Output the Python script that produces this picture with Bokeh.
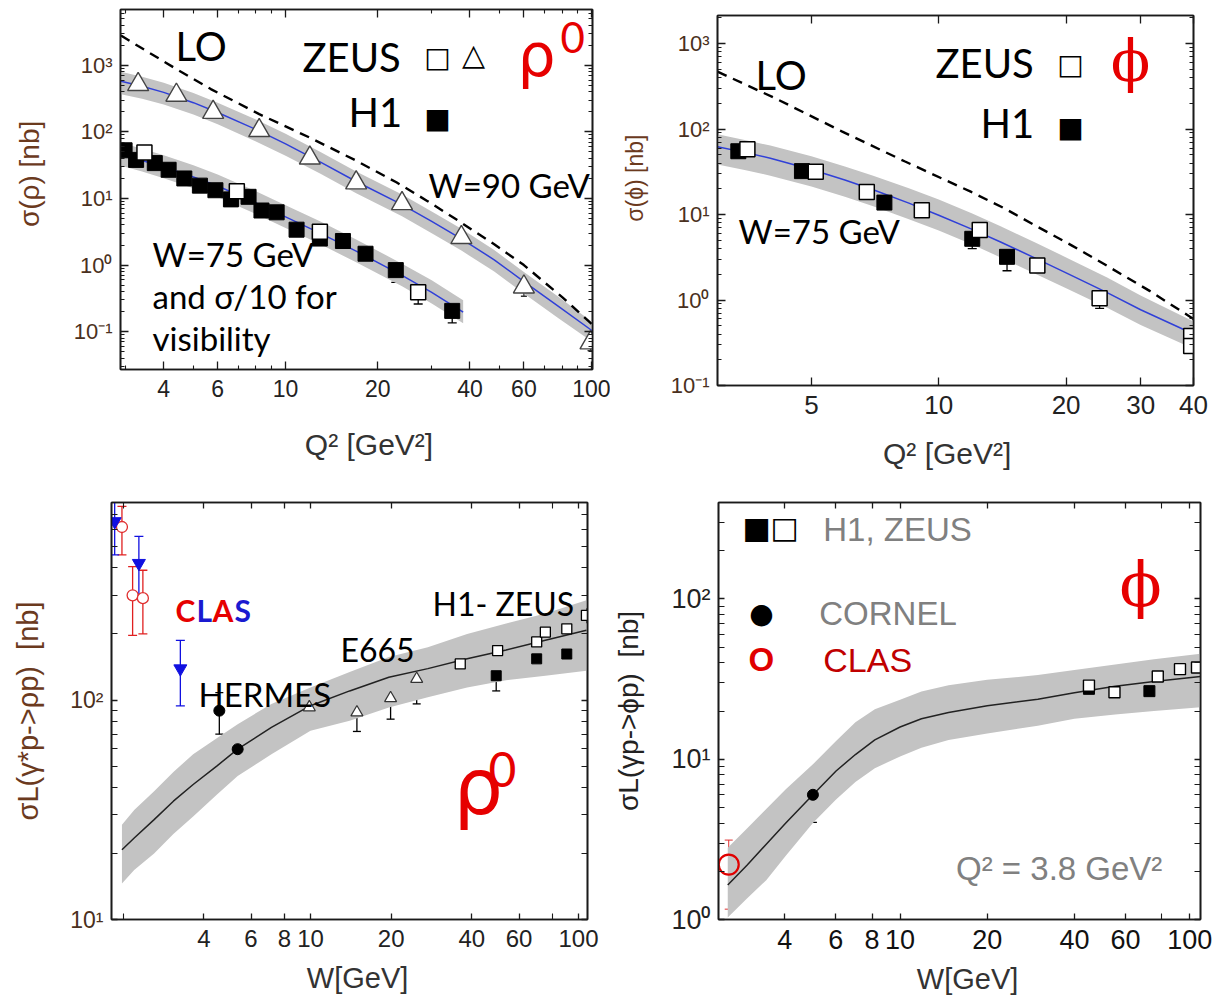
import math
from bokeh.plotting import figure
from bokeh.models import (Range1d, FixedTicker, LogAxis, Label, ColumnDataSource,
                          Whisker, TeeHead, CustomJSTickFormatter)
from bokeh.layouts import column, row
from bokeh.embed import file_html
from bokeh.resources import INLINE

# ======================= DATA =======================
# --- Panel 1: rho0 cross section vs Q2 ---
zeus90_q2 = [3.3, 4.4, 5.8, 8.2, 12, 17, 24, 37.5, 60, 99]
zeus90_sig = [517, 357, 197, 105, 40.6, 17.2, 8.4, 2.6, 0.47, 0.068]
zeus90_lo = [406, 277, 154, 79, 32, 13.5, 6.4, 1.97, 0.34, 0.052]

h1_75_q2 = [2.98, 3.25, 3.74, 4.15, 4.67, 5.25, 5.9, 6.63, 7.57, 8.34, 9.35, 10.86, 12.94, 15.39, 18.24, 22.9, 35.0]
h1_75_sig = [53, 38, 34, 27, 20, 15.6, 13.3, 9.7, 10.6, 6.6, 6.2, 3.4, 2.5, 2.3, 1.48, 0.84, 0.205]
h1_75_lo = [47, 33, 29.5, 23.4, 17.2, 13.5, 11.7, 8.5, 9.2, 5.7, 5.3, 3.0, 2.1, 2.0, 1.17, 0.55, 0.135]
h1_75_hi = [59, 43, 38, 31, 22.8, 17.8, 15.1, 11.1, 12.1, 7.6, 7.0, 3.9, 2.8, 2.7, 1.72, 1.05, 0.28]

zeus75_q2 = [3.46, 6.93, 12.94, 27.1]
zeus75_sig = [49, 12.9, 3.16, 0.39]
zeus75_lo = [43, 10.8, 2.7, 0.26]
zeus75_hi = [55, 14.8, 3.6, 0.49]

curve90_q2 = [2.9, 3.4, 4, 5, 6, 8, 10, 13, 17, 24, 30, 37.5, 48, 60, 78, 100]
curve90_sig = [578, 485, 393, 275, 196, 109, 66, 35.2, 18.0, 8.1, 4.54, 2.48, 1.2, 0.566, 0.238, 0.104]
band90_hi = [800, 675, 550, 385, 275, 153, 94, 50, 25.5, 11.5, 6.4, 3.5, 1.68, 0.79, 0.33, 0.141]
band90_lo = [369, 315, 258, 182, 130, 72, 44, 23.5, 12, 5.4, 3.0, 1.65, 0.8, 0.375, 0.158, 0.071]

curve75_q2 = [2.9, 3.4, 4, 5, 6, 8, 10, 13, 17, 24, 30, 38]
curve75_sig = [45.5, 37.3, 29.7, 21.0, 15.4, 8.6, 5.3, 3.0, 1.62, 0.70, 0.39, 0.197]
band75_hi = [69, 56, 44.5, 31.5, 23, 12.9, 7.9, 4.5, 2.43, 1.05, 0.59, 0.295]
band75_lo = [31, 25.4, 20.2, 14.3, 10.5, 5.85, 3.6, 2.05, 1.1, 0.48, 0.265, 0.134]

lo1_q2 = [2.9, 3.3, 4.4, 5.7, 8.2, 12, 17, 23, 29, 37, 48, 60, 80, 100]
lo1_sig = [2800, 1950, 880, 440, 185, 82, 37, 17.5, 9.2, 4.5, 2.05, 1.0, 0.33, 0.13]

# --- Panel 2: phi cross section vs Q2 ---
zphi_q2 = [3.53, 5.12, 6.76, 9.12, 12.5, 17.1, 24.0, 39.5, 39.5]
zphi_sig = [58, 31.6, 18.4, 11.2, 6.6, 2.53, 1.05, 0.38, 0.29]
zphi_lo = [51, 28, 16.5, 10, 5.9, 2.25, 0.8, 0.32, 0.25]
zphi_hi = [65, 35.5, 20.5, 12.5, 7.4, 2.85, 1.25, 0.45, 0.34]
hphi_q2 = [3.36, 4.75, 7.44, 12.0, 14.5]
hphi_sig = [55, 32.2, 13.8, 5.2, 3.2]
hphi_lo = [47, 27.5, 12.3, 4.0, 2.2]
hphi_hi = [62, 36.5, 15.3, 6.3, 4.2]

curve2_q2 = [3.0, 3.5, 4, 5, 6, 7, 8.5, 10, 12, 14, 17, 20, 25, 30, 40]
curve2_sig = [62, 53, 45.6, 33.7, 25.4, 19.5, 13.6, 9.8, 6.7, 4.77, 3.05, 2.08, 1.22, 0.77, 0.40]
band2_hi = [87, 74, 64, 48, 36.5, 28.5, 20.3, 15, 10.3, 7.3, 4.65, 3.15, 1.83, 1.13, 0.56]
band2_lo = [38.5, 33, 28.5, 21.3, 16.2, 12.5, 8.8, 6.5, 4.45, 3.15, 2.0, 1.37, 0.81, 0.51, 0.27]

lo2_q2 = [3.0, 4.1, 5.9, 8.3, 11.9, 14.3, 17.2, 20.6, 24.7, 31.5, 40]
lo2_sig = [470, 230, 94, 42, 18.5, 11.8, 7.1, 4.36, 2.6, 1.28, 0.6]

# --- Panel 3: sigma_L(rho) vs W ---
clasr_w = [1.98, 2.17, 2.37]
clasr_sig = [614, 300, 291]
clasr_lo = [458, 197, 200]
clasr_hi = [762, 405, 390]
clasb_w = [1.86, 2.29, 3.27]
clasb_sig = [651, 420, 139]
clasb_lo = [458, 290, 94]
clasb_hi = [803, 556, 187]
hermes_w = [4.57, 5.35]
hermes_sig = [89.4, 59.7]
hermes_lo = [69.9, 50.1]
hermes_hi = [108, 70.4]
e665_w = [9.9, 14.9, 19.9, 24.9]
e665_sig = [92.6, 87.8, 102, 124.8]
e665_lo = [74.4, 71.9, 81.8, 96]
e665_hi = [106.5, 103.6, 116, 147]
zrho_w = [36.2, 49.9, 69.8, 75.2, 90.4, 107]
zrho_sig = [146, 168, 184, 204, 211, 243]
zrho_lo = [127, 151, 162, 177, 190, 225]
zrho_hi = [162, 177, 194, 229, 227, 260]
hrho_w = [49.3, 69.8, 90.4]
hrho_sig = [129, 154, 162]
hrho_lo = [110, 136, 144]
hrho_hi = [146, 168, 180]

curve3_w = [1.98, 2.2, 2.61, 3.08, 3.65, 4.47, 5.35, 7.15, 10, 14.0, 19.6, 27.4, 38.4, 53.7, 75.2, 107]
curve3_sig = [20.8, 23.5, 28.5, 34.6, 41.2, 50, 59.7, 75, 94.2, 110, 127, 139, 154, 169, 187, 208]
band3_hi = [27.0, 31.5, 38.4, 47, 56.6, 67, 77.6, 96, 114, 134, 157, 174, 200, 223, 248, 285]
band3_lo = [14.6, 16.8, 20.0, 24.5, 29.5, 37, 45, 56.6, 72.4, 80.4, 92.5, 103, 114, 123, 129, 136]

# --- Panel 4: sigma_L(phi) vs W ---
clasphi_w = [2.56]
clasphi_sig = [2.2]
clasphi_lo = [1.16]
clasphi_hi = [3.13]
cornell_w = [5.0]
cornell_sig = [6.0]
cornell_lo = [4.04]
cornell_hi = [8.1]
zphiw_w = [44.9, 55, 77.6, 92.6, 106]
zphiw_sig = [28.8, 26.2, 32.8, 36.5, 37.4]
zphiw_lo = [26.0, 22.0, 27.9, 32.1, 33.0]
zphiw_hi = [32.8, 29.6, 36.9, 41.5, 42.0]
hphiw_w = [44.9, 72.6]
hphiw_sig = [27.5, 26.6]
hphiw_lo = [25.5, 22.8]
hphiw_hi = [29.5, 29.9]

curve4_w = [2.54, 2.96, 3.45, 4.03, 5.0, 6.01, 7.01, 8.18, 10, 11.85, 14.7, 20, 29.9, 40, 55.3, 75.3, 109]
curve4_sig = [1.64, 2.18, 2.95, 4.0, 6.0, 8.45, 10.7, 13.2, 15.9, 17.9, 19.6, 21.6, 23.7, 26.0, 28.5, 30.6, 32.8]
band4_hi = [2.8, 3.7, 4.9, 6.5, 9.3, 13.0, 17.0, 20.5, 23.5, 26.5, 29, 31.3, 33.5, 36, 39, 42, 45.6]
band4_lo = [1.03, 1.35, 1.76, 2.5, 4.0, 5.6, 7.2, 8.8, 10.4, 11.8, 13.2, 14.5, 16.2, 17.9, 19, 20, 21.1]

# tick label sets
p1_xticks = [4, 6, 10, 20, 40, 60, 100]
p2_xticks = [5, 10, 20, 30, 40]
w_xticks = [4, 6, 8, 10, 20, 40, 60, 100]

# ======================= HELPERS =======================
INK = "#1a1a1a"
NB = "\u00a0"


def pow_fmt():
    return CustomJSTickFormatter(code="""
const e = Math.round(Math.log10(tick));
const sup = {'-':'\u207b','0':'\u2070','1':'\u00b9','2':'\u00b2','3':'\u00b3','4':'\u2074'};
return '10' + String(e).split('').map(c => sup[c]).join('');
""")


def num_fmt():
    return CustomJSTickFormatter(code="return String(Math.round(tick));")


def empty_fmt():
    return CustomJSTickFormatter(code="return '';")


def log_minors(lo_exp, hi_exp):
    return [m * 10.0 ** e for e in range(lo_exp, hi_exp) for m in range(2, 10)]


class Geo:
    """page-pixel geometry of one panel's frame, for placing annotations"""
    def __init__(self, ox, oy, bl, br, bt, bb, w, h, xr, yr):
        self.x0 = ox + bl
        self.x1 = ox + w - br
        self.y0 = oy + bt
        self.y1 = oy + h - bb
        self.xr = xr
        self.yr = yr

    def at(self, px, py):
        lx0, lx1 = math.log10(self.xr[0]), math.log10(self.xr[1])
        ly0, ly1 = math.log10(self.yr[0]), math.log10(self.yr[1])
        lx = lx0 + (px - self.x0) / (self.x1 - self.x0) * (lx1 - lx0)
        ly = ly1 - (py - self.y0) / (self.y1 - self.y0) * (ly1 - ly0)
        return 10 ** lx, 10 ** ly


def make_panel(w, h, xr, yr, bl, br, bt, bb):
    p = figure(width=w, height=h, x_axis_type="log", y_axis_type="log",
               x_range=Range1d(*xr), y_range=Range1d(*yr),
               output_backend="svg", toolbar_location=None,
               min_border_left=bl, min_border_right=br,
               min_border_top=bt, min_border_bottom=bb)
    p.xgrid.visible = False
    p.ygrid.visible = False
    p.outline_line_color = INK
    p.outline_line_width = 1.6
    p.background_fill_color = "white"
    p.border_fill_color = "white"
    return p


def style_axis(ax, major, minor, fmt, size, color, mlen=8, nlen=4):
    ax.ticker = FixedTicker(ticks=major, minor_ticks=minor)
    ax.formatter = fmt
    ax.major_tick_in = mlen
    ax.major_tick_out = 0
    ax.minor_tick_in = nlen
    ax.minor_tick_out = 0
    ax.major_tick_line_color = INK
    ax.minor_tick_line_color = INK
    ax.major_tick_line_width = 1.3
    ax.minor_tick_line_width = 1.1
    ax.axis_line_color = INK
    ax.axis_line_width = 1.6
    ax.major_label_text_font = "Liberation Sans"
    ax.major_label_text_font_size = f"{size}px"
    ax.major_label_text_color = color


def axis_text(ax, text, size, color, standoff):
    ax.axis_label = text
    ax.axis_label_text_font = "Liberation Sans"
    ax.axis_label_text_font_size = f"{size}px"
    ax.axis_label_text_font_style = "normal"
    ax.axis_label_text_color = color
    ax.axis_label_standoff = standoff


def setup_axes(p, xmaj, xmin, ymaj, ymin, xsize, ysize, xcol, ycol, xlab, ylab,
               mlen=8, nlen=4, xstand=10, ystand=8):
    xa = p.below[0]
    ya = p.left[0]
    style_axis(xa, xmaj, xmin, num_fmt(), xsize, xcol, mlen, nlen)
    style_axis(ya, ymaj, ymin, pow_fmt(), ysize, ycol, mlen, nlen)
    xa.major_label_standoff = xstand
    ya.major_label_standoff = ystand
    axis_text(xa, *xlab)
    axis_text(ya, *ylab)
    top = LogAxis()
    style_axis(top, xmaj, xmin, empty_fmt(), 0, INK, mlen, nlen)
    top.major_label_standoff = 0
    p.add_layout(top, "above")
    right = LogAxis()
    style_axis(right, ymaj, ymin, empty_fmt(), 0, INK, mlen, nlen)
    right.major_label_standoff = 0
    p.add_layout(right, "right")


def errbars(p, x, lo, hi, color="black", width=1.3, head=8, lower=True, upper=True):
    src = ColumnDataSource(dict(x=x, lo=lo, hi=hi))
    wk = Whisker(source=src, base="x", lower="lo", upper="hi", dimension="height",
                 line_color=color, line_width=width,
                 upper_head=TeeHead(size=head, line_color=color, line_width=width) if upper else None,
                 lower_head=TeeHead(size=head, line_color=color, line_width=width) if lower else None)
    p.add_layout(wk)


def txt(p, g, px, py, text, size, color="black", font="Lato", align="left",
        baseline="alphabetic", style="normal", angle=0.0):
    # px, py: page pixel position (baseline for alphabetic text, centre for 'middle')
    if baseline == "alphabetic":
        py = py - 0.43 * size
    x, y = g.at(px, py)
    p.add_layout(Label(x=x, y=y, text=text, text_font=font, text_font_size=f"{size}px",
                       text_color=color, text_align=align, text_baseline=baseline,
                       text_font_style=style, angle=angle))


BAND = "#c3c3c3"
BLUE = "#3040d8"
RED = "#e60000"
YCOL = "#4a3020"
YLAB = "#6b3a1e"

# ======================= PANEL 1 =======================
P1 = dict(w=610, h=490, xr=(2.89, 100.5), yr=(0.027, 6900), bl=120, br=18, bt=9, bb=121)
g1 = Geo(0, 0, P1["bl"], P1["br"], P1["bt"], P1["bb"], P1["w"], P1["h"], P1["xr"], P1["yr"])
p1 = make_panel(P1["w"], P1["h"], P1["xr"], P1["yr"], P1["bl"], P1["br"], P1["bt"], P1["bb"])
setup_axes(p1, p1_xticks, [3, 5, 7, 8, 9, 30, 50, 70, 80, 90],
           [0.1, 1, 10, 100, 1000], log_minors(-2, 4), 23, 22, "#222222", YCOL,
           (NB * 3 + "Q\u00b2 [GeV\u00b2]", 30, "#333333", 28),
           (NB * 4 + "\u03c3(\u03c1) [nb]", 28, YLAB, 26))
p1.varea(x=curve90_q2, y1=band90_lo, y2=band90_hi, fill_color=BAND)
p1.varea(x=curve75_q2, y1=band75_lo, y2=band75_hi, fill_color=BAND)
p1.line(curve90_q2, curve90_sig, line_color=BLUE, line_width=1.5)
p1.line(curve75_q2, curve75_sig, line_color=BLUE, line_width=1.5)
p1.line(lo1_q2, lo1_sig, line_color="black", line_width=2.4, line_dash="10 7")
errbars(p1, zeus90_q2, zeus90_lo, zeus90_sig, color="#333333", head=6, upper=False)
errbars(p1, h1_75_q2, h1_75_lo, h1_75_hi, head=9)
errbars(p1, zeus75_q2, zeus75_lo, zeus75_hi, head=9)
p1.scatter(zeus90_q2, zeus90_sig, marker="triangle", size=21, fill_color="white",
           line_color="#444444", line_width=1.4)
p1.scatter(h1_75_q2, h1_75_sig, marker="square", size=15, fill_color="black", line_color="black")
p1.scatter(zeus75_q2, zeus75_sig, marker="square", size=15, fill_color="white",
           line_color="black", line_width=1.5)
txt(p1, g1, 175, 63, "LO", 40)
txt(p1, g1, 302, 74, "ZEUS", 40)
txt(p1, g1, 437, 57, "\u25a1", 28, font="DejaVu Sans", align="center", baseline="middle")
txt(p1, g1, 473, 54, "\u25b3", 30, font="DejaVu Sans", align="center", baseline="middle")
txt(p1, g1, 517, 80, "\u03c1", 60, color=RED, font="DejaVu Sans")
txt(p1, g1, 560, 55, "0", 42, color=RED)
txt(p1, g1, 348, 129, "H1", 40)
txt(p1, g1, 437, 118, "\u25a0", 28, font="DejaVu Sans", align="center", baseline="middle")
txt(p1, g1, 428, 199, "W=90 GeV", 33)
txt(p1, g1, 152, 268, "W=75 GeV", 33)
txt(p1, g1, 152, 310, "and \u03c3/10 for", 33)
txt(p1, g1, 152, 352, "visibility", 33)

# ======================= PANEL 2 =======================
P2 = dict(w=610, h=490, xr=(3.0, 40), yr=(0.1, 2130), bl=107, br=27, bt=15, bb=105)
g2 = Geo(610, 0, P2["bl"], P2["br"], P2["bt"], P2["bb"], P2["w"], P2["h"], P2["xr"], P2["yr"])
p2 = make_panel(P2["w"], P2["h"], P2["xr"], P2["yr"], P2["bl"], P2["br"], P2["bt"], P2["bb"])
setup_axes(p2, p2_xticks, [], [0.1, 1, 10, 100, 1000], log_minors(-1, 4), 26, 22, "#222222", YCOL,
           ("Q\u00b2 [GeV\u00b2]" + NB * 2, 30, "#333333", 20),
           (NB * 7 + "\u03c3(\u03d5) [nb]", 23, YLAB, 20))
p2.varea(x=curve2_q2, y1=band2_lo, y2=band2_hi, fill_color=BAND)
p2.line(curve2_q2, curve2_sig, line_color=BLUE, line_width=1.5)
p2.line(lo2_q2, lo2_sig, line_color="black", line_width=2.4, line_dash="10 7")
errbars(p2, hphi_q2, hphi_lo, hphi_hi, head=9)
errbars(p2, zphi_q2, zphi_lo, zphi_hi, head=9)
p2.scatter(hphi_q2, hphi_sig, marker="square", size=15, fill_color="black", line_color="black")
p2.scatter(zphi_q2, zphi_sig, marker="square", size=15, fill_color="white",
           line_color="black", line_width=1.5)
txt(p2, g2, 755, 92, "LO", 40)
txt(p2, g2, 935, 80, "ZEUS", 40)
txt(p2, g2, 1070, 64, "\u25a1", 28, font="DejaVu Sans", align="center", baseline="middle")
txt(p2, g2, 1130, 60, "\u03d5", 58, color=RED, font="DejaVu Serif", align="center", baseline="middle")
txt(p2, g2, 980, 140, "H1", 40)
txt(p2, g2, 1070, 127, "\u25a0", 28, font="DejaVu Sans", align="center", baseline="middle")
txt(p2, g2, 738, 245, "W=75  GeV", 33)

# ======================= PANEL 3 =======================
P3 = dict(w=610, h=510, xr=(1.81, 108), yr=(10, 794), bl=111, br=23, bt=12, bb=81)
g3 = Geo(0, 490, P3["bl"], P3["br"], P3["bt"], P3["bb"], P3["w"], P3["h"], P3["xr"], P3["yr"])
p3 = make_panel(P3["w"], P3["h"], P3["xr"], P3["yr"], P3["bl"], P3["br"], P3["bt"], P3["bb"])
setup_axes(p3, w_xticks, [2, 80], [10, 100], log_minors(1, 3), 24, 23, "#222222", YCOL,
           (NB * 2 + "W[GeV]", 29, "#333333", 12),
           ("\u03c3L(\u03b3*p->\u03c1p) " + NB + "[nb]", 29, YLAB, 23),
           mlen=6, nlen=6)
p3.varea(x=curve3_w, y1=band3_lo, y2=band3_hi, fill_color=BAND)
p3.line(curve3_w, curve3_sig, line_color="#222222", line_width=1.5)
errbars(p3, clasr_w, clasr_lo, clasr_hi, color="#e02020", head=9)
errbars(p3, clasb_w, clasb_lo, clasb_hi, color="#1010e0", head=9)
errbars(p3, hermes_w, hermes_lo, hermes_hi, head=8)
errbars(p3, e665_w, e665_lo, e665_hi, head=8)
errbars(p3, zrho_w, zrho_lo, zrho_hi, head=8)
errbars(p3, hrho_w, hrho_lo, hrho_hi, head=8)
p3.scatter(clasr_w, clasr_sig, marker="circle", size=11, fill_color="white",
           line_color="#e03030", line_width=1.3)
p3.scatter(clasb_w, clasb_sig, marker="inverted_triangle", size=13, fill_color="#1010e0",
           line_color="#1010e0")
p3.scatter(hermes_w, hermes_sig, marker="circle", size=11, fill_color="black", line_color="black")
p3.scatter(e665_w, e665_sig, marker="triangle", size=12, fill_color="white",
           line_color="#333333", line_width=1.2)
p3.scatter(hrho_w, hrho_sig, marker="square", size=10, fill_color="black", line_color="black")
p3.scatter(zrho_w, zrho_sig, marker="square", size=10, fill_color="white",
           line_color="black", line_width=1.3)
for t, xx, c in [("C", 175, RED), ("L", 196, "#1a1ad0"), ("A", 212, RED), ("S", 234, "#1a1ad0")]:
    txt(p3, g3, xx, 622, t, 30, color=c, style="bold")
txt(p3, g3, 198, 708, "HERMES", 33)
txt(p3, g3, 340, 663, "E665", 32)
txt(p3, g3, 432, 617, "H1- ZEUS", 32)
txt(p3, g3, 453, 820, "\u03c1", 78, color=RED, font="DejaVu Sans")
txt(p3, g3, 488, 790, "0", 48, color=RED)

# ======================= PANEL 4 =======================
P4 = dict(w=610, h=510, xr=(2.36, 109), yr=(1, 400), bl=107, br=20, bt=12, bb=81)
g4 = Geo(610, 490, P4["bl"], P4["br"], P4["bt"], P4["bb"], P4["w"], P4["h"], P4["xr"], P4["yr"])
p4 = make_panel(P4["w"], P4["h"], P4["xr"], P4["yr"], P4["bl"], P4["br"], P4["bt"], P4["bb"])
setup_axes(p4, w_xticks, [80], [1, 10, 100], log_minors(0, 3), 27, 27, "#111111", "#222222",
           (NB * 2 + "W[GeV]", 29, "#333333", 11),
           ("\u03c3L(\u03b3p->\u03d5p) " + NB + "[nb]", 28, "#222222", 24),
           mlen=6, nlen=6)
p4.varea(x=curve4_w, y1=band4_lo, y2=band4_hi, fill_color=BAND)
p4.line(curve4_w, curve4_sig, line_color="#222222", line_width=1.5)
errbars(p4, clasphi_w, clasphi_lo, clasphi_hi, color="#e03030", head=8, width=1.0)
errbars(p4, cornell_w, cornell_lo, cornell_hi, head=8)
errbars(p4, zphiw_w, zphiw_lo, zphiw_hi, head=8)
errbars(p4, hphiw_w, hphiw_lo, hphiw_hi, head=8)
p4.scatter(clasphi_w, clasphi_sig, marker="circle", size=20, fill_color=None,
           line_color="#e00000", line_width=2.2)
p4.scatter(cornell_w, cornell_sig, marker="circle", size=11, fill_color="black", line_color="black")
p4.scatter(hphiw_w, hphiw_sig, marker="square", size=11, fill_color="black", line_color="black")
p4.scatter(zphiw_w, zphiw_sig, marker="square", size=11, fill_color="white",
           line_color="black", line_width=1.4)
txt(p4, g4, 755, 527, "\u25a0", 30, font="DejaVu Sans", align="center", baseline="middle")
txt(p4, g4, 783, 527, "\u25a1", 30, font="DejaVu Sans", align="center", baseline="middle",
    style="bold")
txt(p4, g4, 822, 543, "H1, ZEUS", 33, color="#808080", font="Liberation Sans")
txt(p4, g4, 760, 613, "\u25cf", 28, font="DejaVu Sans", align="center", baseline="middle")
txt(p4, g4, 818, 627, "CORNEL", 33, color="#808080", font="Liberation Sans")
txt(p4, g4, 760, 673, "O", 33, color="#e00000", font="Liberation Sans", style="bold",
    align="center")
txt(p4, g4, 822, 674, "CLAS", 34, color="#c00000", font="Liberation Sans")
txt(p4, g4, 1140, 584, "\u03d5", 62, color=RED, font="DejaVu Serif", align="center",
    baseline="middle")
txt(p4, g4, 955, 882, "Q\u00b2 = 3.8 GeV\u00b2", 33, color="#808080", font="Liberation Sans")

layout = column(row(column(p1), column(p2)), row(column(p3), column(p4)))
open("out.html", "w").write(file_html(layout, INLINE))
